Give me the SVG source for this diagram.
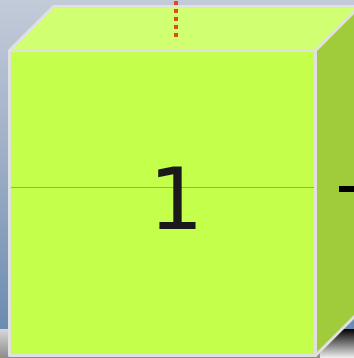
<svg xmlns="http://www.w3.org/2000/svg" width="354" height="358" viewBox="0 0 354 358">
  <defs>
    <linearGradient id="bg" x1="0" y1="0" x2="0" y2="1">
      <stop offset="0" stop-color="#c3cbd9"/>
      <stop offset="0.5" stop-color="#9cadc5"/>
      <stop offset="1" stop-color="#6b8cb0"/>
    </linearGradient>
    <linearGradient id="floorL" x1="0" y1="0" x2="0" y2="1">
      <stop offset="0" stop-color="#d8d8d8"/>
      <stop offset="1" stop-color="#8c8c8c"/>
    </linearGradient>
    <linearGradient id="floorR" x1="0" y1="0" x2="0" y2="1">
      <stop offset="0" stop-color="#000000"/>
      <stop offset="1" stop-color="#f0f0f0"/>
    </linearGradient>
    <style>
      .face { stroke: #e0e0e0; stroke-width: 3; stroke-linejoin: round; }
      .front { fill: #c4ff4c; }
      .top { fill: #d0ff72; }
      .side { fill: #a0cc3c; }
      .label { font-family: "DejaVu Sans", sans-serif; font-size: 86px; fill: #1a1a1a; text-anchor: middle; }
    </style>
  </defs>
  <rect x="0" y="0" width="354" height="330" fill="url(#bg)"/>
  <rect x="0" y="329" width="354" height="29" fill="url(#floorL)"/>
  <rect x="320" y="329" width="34" height="29" fill="url(#floorR)"/>
  <g id="node-1">
    <polygon class="face top" points="9.5,50.5 53.5,6.5 359.5,6.5 315.5,50.5"/>
    <polygon class="face side" points="315.5,50.5 359.5,6.5 359.5,311.5 315.5,355.5"/>
    <rect class="face front" x="9.5" y="50.5" width="306" height="305"/>
    <line x1="11" y1="187.5" x2="314" y2="187.5" stroke="#94ac80" stroke-width="1"/>
    <text class="label" x="176" y="229">1</text>
  </g>
  <g id="connectors">
    <line x1="176" y1="1" x2="176" y2="38" stroke="#e04a1a" stroke-width="4" stroke-dasharray="4 4"/>
    <rect x="339" y="186" width="15" height="6" fill="#000000"/>
  </g>
</svg>
